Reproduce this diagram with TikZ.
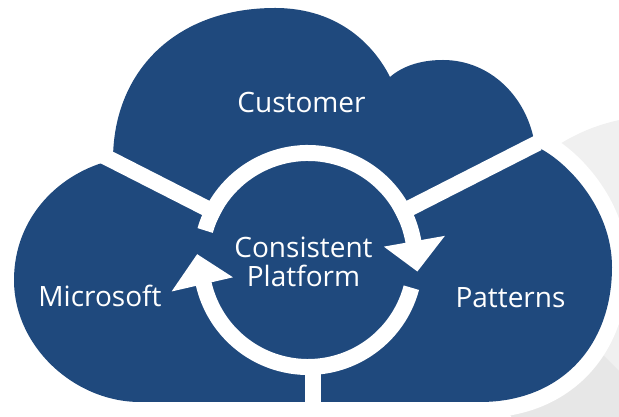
\documentclass[tikz,border=0pt]{standalone}
\usepackage{fontspec}
\newfontfamily\cloudfont{Open Sans}
\definecolor{cloudblue}{RGB}{31,73,125}
\definecolor{backgray}{RGB}{240,240,240}
\definecolor{shadegray}{RGB}{231,231,231}

\begin{document}
\begin{tikzpicture}[x=1pt,y=1pt,
  gap/.style={white,line width=16pt},
  lobetext/.style={text=white,font=\cloudfont\fontsize{28}{29}\selectfont,anchor=base}]
\clip (0,0) rectangle (619,417);
% grey disc behind the cloud
\begin{scope}
\clip (658,115) circle (186);
\fill[backgray] (658,115) circle (186);
\fill[shadegray] (0,0) -- (665,0) -- (0,665) -- cycle;
\end{scope}
% the cloud, with a white rim
\path[fill=cloudblue,preaction={draw=white,line width=32pt,line join=round}]
  (140,15) .. controls (75,15) and (14,70) .. (14,137)
  .. controls (14,200) and (60,245) .. (113,257)
  .. controls (113,345) and (175,409) .. (275,409)
  .. controls (340,409) and (375,370) .. (390,340)
  .. controls (405,353) and (425,357) .. (443,357)
  .. controls (490,357) and (528,320) .. (535,271)
  .. controls (565,258) and (612,210) .. (612,150)
  .. controls (612,70) and (560,15) .. (480,15)
  -- cycle;
% ring, arrows and the three cuts
\begin{scope}[shift={(308,157)}]
\draw[gap] (153:99) -- (153:260);
\draw[gap] (27:99) -- (27:258);
\draw[gap] (5,-99) -- (5,-170);
\draw[gap] (164:107) arc[start angle=164,end angle=9,radius=107];
\fill[white] (10:77) -- (10:139) -- (-6:110) -- cycle;
\draw[gap] (-15:107) arc[start angle=-15,end angle=-168,radius=107];
\fill[white] (193:77) -- (193:140) -- (177:111) -- cycle;
\end{scope}
% texts
\node[lobetext] (customer) at (301.5,304) {Customer};
\node[lobetext] (microsoft) at (100,110) {Microsoft};
\node[lobetext] (patterns) at (510.5,109) {Patterns};
\node[lobetext,align=center] (platform) at (303.5,130) {Consistent\\Platform};
\end{tikzpicture}
\end{document}
